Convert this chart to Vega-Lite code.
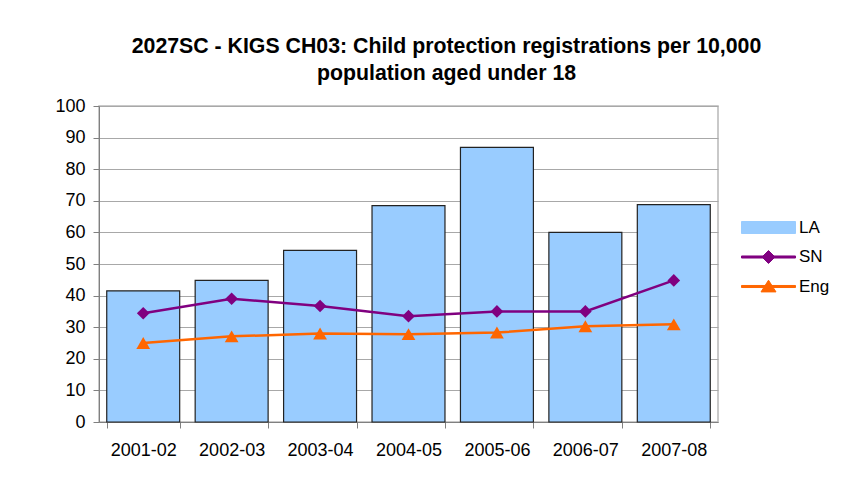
{
  "$schema": "https://vega.github.io/schema/vega-lite/v6.json",
  "autosize": "none",
  "width": 619,
  "height": 316,
  "padding": {"left": 99, "top": 106, "right": 125, "bottom": 66},
  "background": "white",
  "title": {
    "text": ["2027SC - KIGS CH03: Child protection registrations per 10,000", "population aged under 18"],
    "font": "Liberation Sans",
    "fontSize": 21.3,
    "fontWeight": "bold",
    "color": "black",
    "lineHeight": 27,
    "anchor": "middle",
    "frame": "group",
    "dx": 38,
    "offset": 13
  },
  "data": {
    "values": [
      {"period": "2001-02", "LA": 41.5, "SN": 34.4, "Eng": 25.0},
      {"period": "2002-03", "LA": 44.8, "SN": 39.0, "Eng": 27.1},
      {"period": "2003-04", "LA": 54.3, "SN": 36.7, "Eng": 28.0},
      {"period": "2004-05", "LA": 68.5, "SN": 33.5, "Eng": 27.8},
      {"period": "2005-06", "LA": 86.9, "SN": 35.0, "Eng": 28.3},
      {"period": "2006-07", "LA": 60.0, "SN": 35.0, "Eng": 30.3},
      {"period": "2007-08", "LA": 68.8, "SN": 44.8, "Eng": 30.9}
    ]
  },
  "encoding": {
    "x": {
      "field": "period",
      "type": "nominal",
      "sort": null,
      "scale": {"paddingInner": 0.175, "paddingOuter": 0.0875},
      "axis": {
        "title": null,
        "labelAngle": 0,
        "tickBand": "extent",
        "tickSize": 6,
        "labelPadding": 13,
        "labelFontSize": 18,
        "labelFont": "Liberation Sans",
        "labelColor": "black",
        "domainColor": "#808080",
        "tickColor": "#808080",
        "grid": false
      }
    }
  },
  "layer": [
    {
      "mark": {"type": "bar", "stroke": "#222222", "strokeWidth": 1.2},
      "encoding": {
        "y": {
          "field": "LA",
          "type": "quantitative",
          "scale": {"domain": [0, 100], "nice": false},
          "axis": {
            "title": null,
            "values": [0, 10, 20, 30, 40, 50, 60, 70, 80, 90, 100],
            "labelOverlap": false,
            "tickSize": 6,
            "labelPadding": 8,
            "labelFontSize": 18,
            "labelFont": "Liberation Sans",
            "labelColor": "black",
            "domainColor": "#808080",
            "tickColor": "#808080",
            "gridColor": "#a8a8a8",
            "grid": true
          }
        },
        "color": {
          "datum": "LA",
          "type": "nominal",
          "scale": {"domain": ["LA", "SN", "Eng"], "range": ["#99CCFF", "#800080", "#FF6600"]},
          "legend": {
            "title": null,
            "orient": "none",
            "legendX": 661,
            "legendY": 113,
            "padding": 0,
            "symbolSize": 144,
            "labelOffset": 22,
            "labelFontSize": 17,
            "labelFont": "Liberation Sans",
            "labelColor": "black",
            "rowPadding": 11.5,
            "encode": {
              "symbols": {
                "update": {
                  "shape": {"signal": "datum.value === 'LA' ? 'M-4.5,-1H4.5V1H-4.5Z' : datum.value === 'SN' ? 'M-4.5,-0.17H4.5V0.17H-4.5Z M0,-1.08L1.08,0L0,1.08L-1.08,0Z' : 'M-4.5,-0.17H4.5V0.17H-4.5Z M0,-1.05L1.25,0.9L-1.25,0.9Z'"},
                  "fill": {"signal": "datum.value === 'LA' ? '#99CCFF' : datum.value === 'SN' ? '#800080' : '#FF6600'"},
                  "stroke": {"signal": "datum.value === 'LA' ? '#333333' : 'transparent'"},
                  "strokeWidth": {"value": 1},
                  "opacity": {"value": 1},
                  "fillOpacity": {"value": 1}
                }
              }
            }
          }
        }
      }
    },
    {
      "mark": {"type": "line", "strokeWidth": 2.5, "point": {"shape": "diamond", "size": 160, "filled": true, "opacity": 1}},
      "encoding": {
        "y": {
          "field": "SN",
          "type": "quantitative",
          "scale": {"domain": [0, 100], "nice": false},
          "axis": {
            "title": null,
            "values": [0, 10, 20, 30, 40, 50, 60, 70, 80, 90, 100],
            "labelOverlap": false,
            "tickSize": 6,
            "labelPadding": 8,
            "labelFontSize": 18,
            "labelFont": "Liberation Sans",
            "labelColor": "black",
            "domainColor": "#808080",
            "tickColor": "#808080",
            "gridColor": "#a8a8a8",
            "grid": true
          }
        },
        "color": {
          "datum": "SN",
          "type": "nominal",
          "legend": {
            "title": null,
            "orient": "none",
            "legendX": 661,
            "legendY": 113,
            "padding": 0,
            "symbolSize": 144,
            "labelOffset": 22,
            "labelFontSize": 17,
            "labelFont": "Liberation Sans",
            "labelColor": "black",
            "rowPadding": 11.5,
            "encode": {
              "symbols": {
                "update": {
                  "shape": {"signal": "datum.value === 'LA' ? 'M-4.5,-1H4.5V1H-4.5Z' : datum.value === 'SN' ? 'M-4.5,-0.17H4.5V0.17H-4.5Z M0,-1.08L1.08,0L0,1.08L-1.08,0Z' : 'M-4.5,-0.17H4.5V0.17H-4.5Z M0,-1.05L1.25,0.9L-1.25,0.9Z'"},
                  "fill": {"signal": "datum.value === 'LA' ? '#99CCFF' : datum.value === 'SN' ? '#800080' : '#FF6600'"},
                  "stroke": {"signal": "datum.value === 'LA' ? '#333333' : 'transparent'"},
                  "strokeWidth": {"value": 1},
                  "opacity": {"value": 1},
                  "fillOpacity": {"value": 1}
                }
              }
            }
          }
        }
      }
    },
    {
      "mark": {"type": "line", "strokeWidth": 2.5, "point": {"shape": "triangle-up", "size": 190, "filled": true, "opacity": 1}},
      "encoding": {
        "y": {
          "field": "Eng",
          "type": "quantitative",
          "scale": {"domain": [0, 100], "nice": false},
          "axis": {
            "title": null,
            "values": [0, 10, 20, 30, 40, 50, 60, 70, 80, 90, 100],
            "labelOverlap": false,
            "tickSize": 6,
            "labelPadding": 8,
            "labelFontSize": 18,
            "labelFont": "Liberation Sans",
            "labelColor": "black",
            "domainColor": "#808080",
            "tickColor": "#808080",
            "gridColor": "#a8a8a8",
            "grid": true
          }
        },
        "color": {
          "datum": "Eng",
          "type": "nominal",
          "legend": {
            "title": null,
            "orient": "none",
            "legendX": 661,
            "legendY": 113,
            "padding": 0,
            "symbolSize": 144,
            "labelOffset": 22,
            "labelFontSize": 17,
            "labelFont": "Liberation Sans",
            "labelColor": "black",
            "rowPadding": 11.5,
            "encode": {
              "symbols": {
                "update": {
                  "shape": {"signal": "datum.value === 'LA' ? 'M-4.5,-1H4.5V1H-4.5Z' : datum.value === 'SN' ? 'M-4.5,-0.17H4.5V0.17H-4.5Z M0,-1.08L1.08,0L0,1.08L-1.08,0Z' : 'M-4.5,-0.17H4.5V0.17H-4.5Z M0,-1.05L1.25,0.9L-1.25,0.9Z'"},
                  "fill": {"signal": "datum.value === 'LA' ? '#99CCFF' : datum.value === 'SN' ? '#800080' : '#FF6600'"},
                  "stroke": {"signal": "datum.value === 'LA' ? '#333333' : 'transparent'"},
                  "strokeWidth": {"value": 1},
                  "opacity": {"value": 1},
                  "fillOpacity": {"value": 1}
                }
              }
            }
          }
        }
      }
    }
  ],
  "config": {
    "view": {"stroke": "#b8b8b8", "strokeWidth": 1.5}
  }
}
